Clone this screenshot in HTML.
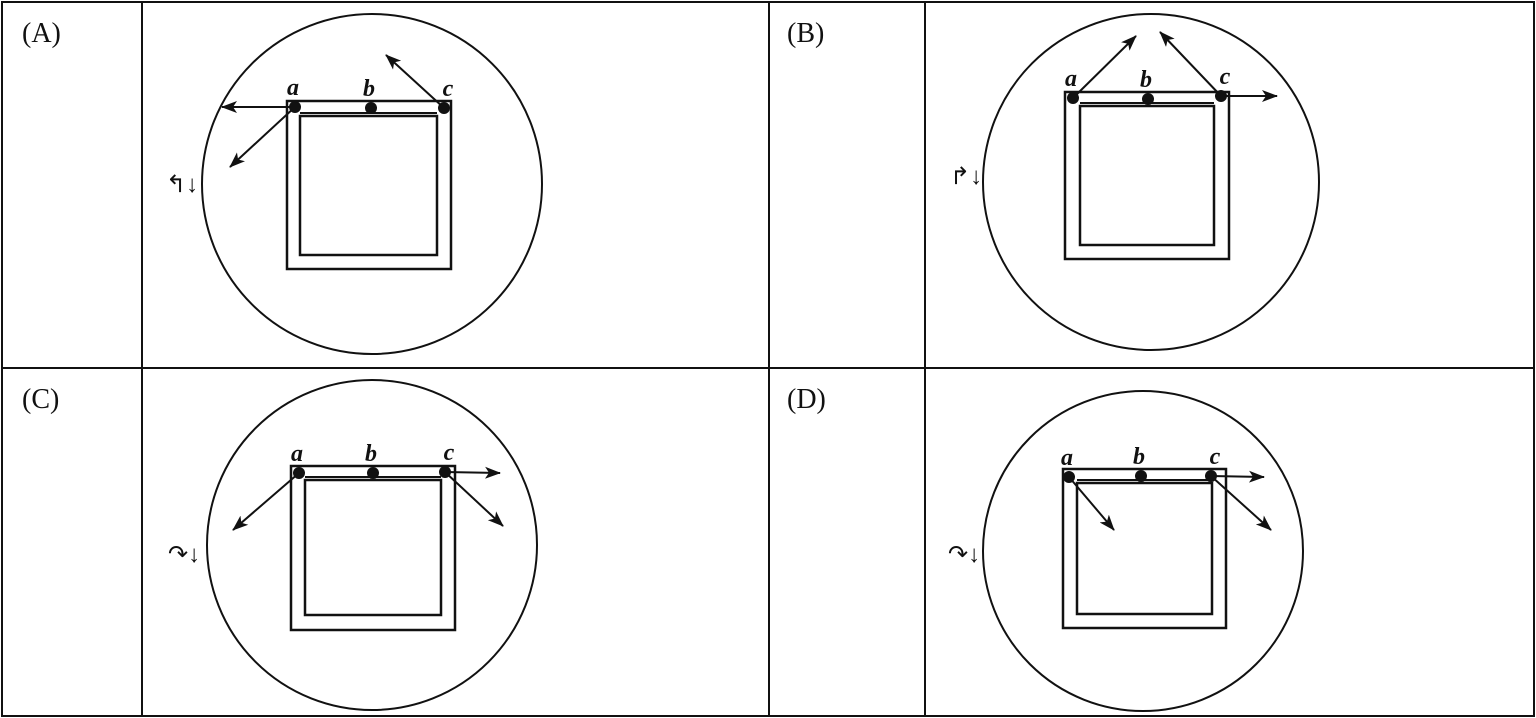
<!DOCTYPE html>
<html><head><meta charset="utf-8"><style>
html,body{margin:0;padding:0;background:#fff;width:1536px;height:718px;overflow:hidden}
svg{display:block}
text{font-family:"Liberation Serif","DejaVu Sans",serif;fill:#111}
</style></head><body>
<svg width="1536" height="718" viewBox="0 0 1536 718">
<defs><marker id="ah" markerWidth="16" markerHeight="12" refX="15" refY="6" orient="auto" markerUnits="userSpaceOnUse"><path d="M0,0 L16,6 L0,12 L4,6 Z" fill="#111"/></marker></defs>
<g stroke="#111" stroke-width="2" fill="none">
<rect x="2" y="2" width="1532" height="714"/>
<line x1="142" y1="2" x2="142" y2="716"/><line x1="769" y1="2" x2="769" y2="716"/><line x1="925" y1="2" x2="925" y2="716"/>
<line x1="2" y1="368" x2="1534" y2="368"/>
</g>
<text x="22" y="42" font-size="28">(A)</text>
<text x="787" y="42" font-size="28">(B)</text>
<text x="22" y="408" font-size="28">(C)</text>
<text x="787" y="408" font-size="28">(D)</text>
<g id="panels"></g>
</svg>
<script>
const panels=[
 {name:'panel-a',cx:372,cy:184,r:170,o:[287,101,451,269],i:[300,116,437,255],dots:[[295,107],[371,108],[444,108]],arrows:[[295,107,222,107],[295,107,230,167],[444,108,386,55]],sym:'↰↓',sx:166,sy:192},
 {name:'panel-b',cx:1151,cy:182,r:168,o:[1065,92,1229,259],i:[1080,106,1214,245],dots:[[1073,98],[1148,99],[1221,96]],arrows:[[1073,98,1136,36],[1221,96,1160,32],[1221,96,1277,96]],sym:'↱↓',sx:950,sy:184},
 {name:'panel-c',cx:372,cy:545,r:165,o:[291,466,455,630],i:[305,480,441,615],dots:[[299,473],[373,473],[445,472]],arrows:[[445,472,500,473],[299,473,233,530],[445,472,503,526]],sym:'↷↓',sx:168,sy:562},
 {name:'panel-d',cx:1143,cy:551,r:160,o:[1063,469,1226,628],i:[1077,483,1212,614],dots:[[1069,477],[1141,476],[1211,476]],arrows:[[1211,476,1264,477],[1069,477,1114,530],[1211,476,1271,530]],sym:'↷↓',sx:948,sy:562}
];
const NS='http://www.w3.org/2000/svg';
const root=document.getElementById('panels');
function mk(t,a,p){const e=document.createElementNS(NS,t);for(const k in a)e.setAttribute(k,a[k]);p.appendChild(e);return e;}
panels.forEach(P=>{
 const g=mk('g',{},root);
 
 
 const c=mk('circle',{cx:P.cx,cy:P.cy,r:P.r,fill:'none',stroke:'#111','stroke-width':2},g);
 
 
 [P.o,P.i].forEach((q,k)=>{const r=mk('rect',{x:q[0],y:q[1],width:q[2]-q[0],height:q[3]-q[1],fill:'none',stroke:'#111','stroke-width':2.5},g);
  
  });
 const bar=mk('line',{x1:P.i[0],y1:P.i[1]-3,x2:P.i[2],y2:P.i[1]-3,stroke:'#111','stroke-width':2},g);
 
 
 P.arrows.forEach(a=>{const l=mk('line',{x1:a[0],y1:a[1],x2:a[2],y2:a[3],stroke:'#111','stroke-width':2,'marker-end':'url(#ah)'},g);
  
  });
 ['a','b','c'].forEach((n,k)=>{const d=P.dots[k];
  const ci=mk('circle',{cx:d[0],cy:d[1],r:6,fill:'#111'},g);
  
  
  const t=mk('text',{x:d[0]+(k==2?4:-2),y:d[1]-12,'font-size':24,'font-style':'italic','font-weight':'bold','text-anchor':'middle'},g);
  t.textContent=n;
  
  });
 const s=mk('text',{x:P.sx,y:P.sy,'font-size':24},g);
 s.textContent=P.sym;
 
 
});
</script>
</body></html>
